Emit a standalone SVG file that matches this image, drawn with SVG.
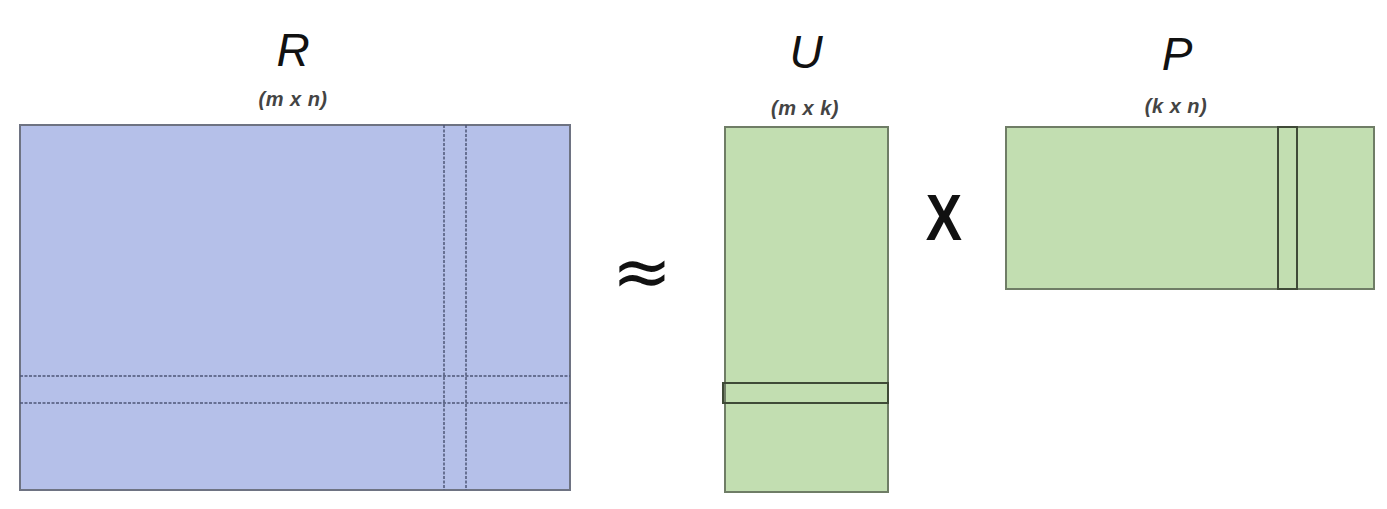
<svg xmlns="http://www.w3.org/2000/svg" width="1387" height="509" viewBox="0 0 1387 509">
<style>
.title{font-family:"Liberation Sans",Arial,sans-serif;font-style:italic;font-size:46px;fill:#111;text-anchor:middle}
.dim{font-family:"Liberation Sans",Arial,sans-serif;font-style:italic;font-weight:bold;font-size:20px;letter-spacing:0.5px;fill:#444;text-anchor:middle}
.blue{fill:#b5c0e9;stroke:#6e7382;stroke-width:2}
.green{fill:#c2deb1;stroke:#6f7d66;stroke-width:2}
.dash{stroke:#4d5677;stroke-width:1.5;stroke-dasharray:3 1.5;fill:none}
.band{fill:none;stroke:#3f4a37;stroke-width:2}
.op{font-family:"DejaVu Sans",sans-serif;fill:#111;text-anchor:middle}
</style>
<rect width="1387" height="509" fill="#fff"/>
<g id="R">
<rect class="blue" x="20" y="125" width="550" height="365"/>
<line class="dash" x1="444" y1="125" x2="444" y2="490"/>
<line class="dash" x1="466" y1="125" x2="466" y2="490"/>
<line class="dash" x1="20" y1="376" x2="570" y2="376"/>
<line class="dash" x1="20" y1="403" x2="570" y2="403"/>
<text class="title" x="293" y="66">R</text>
<text class="dim" x="293" y="106">(m x n)</text>
</g>
<g id="approx">
<text class="op" x="642" y="296" font-size="72">≈</text>
</g>
<g id="U">
<rect class="green" x="725" y="127" width="163" height="365"/>
<rect class="band" x="723" y="383" width="165" height="20"/>
<text class="title" x="806" y="68">U</text>
<text class="dim" x="805" y="115">(m x k)</text>
</g>
<g id="times">
<text x="944" y="240" font-family="'Liberation Sans',Arial,sans-serif" font-size="64" font-weight="bold" fill="#111" text-anchor="middle" transform="translate(944 0) scale(0.85 1) translate(-944 0)">X</text>
</g>
<g id="P">
<rect class="green" x="1006" y="127" width="368" height="162"/>
<rect class="band" x="1278" y="127" width="19" height="162"/>
<text class="title" x="1177" y="70">P</text>
<text class="dim" x="1176" y="113">(k x n)</text>
</g>
<g id="connectors"/>
</svg>
